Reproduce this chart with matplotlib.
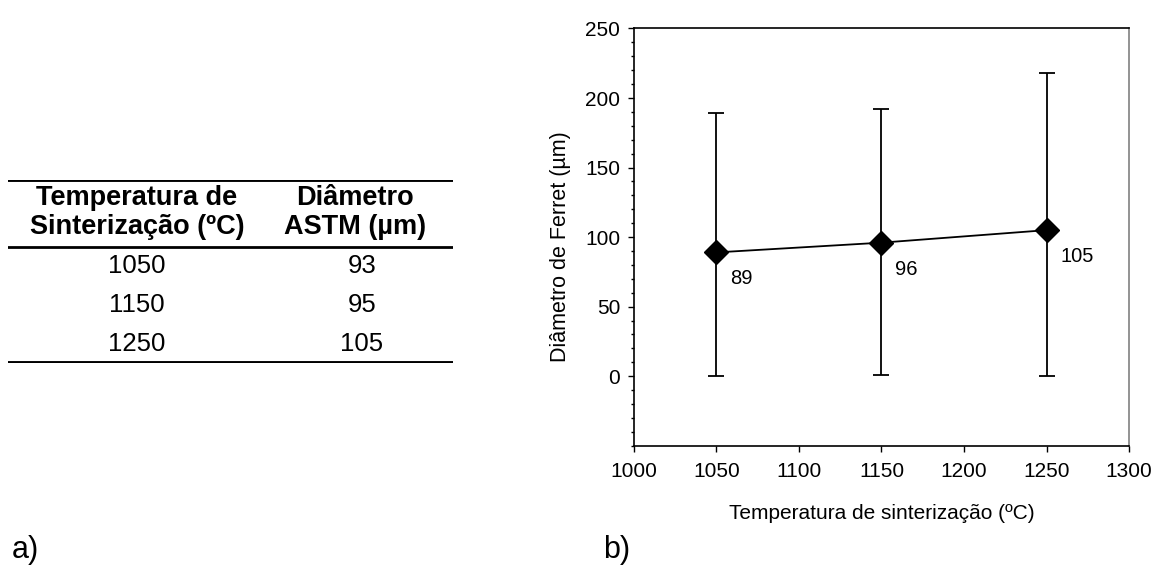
import numpy as np
import matplotlib.pyplot as plt
from matplotlib.ticker import MultipleLocator

plt.rcParams['font.family'] = ['Liberation Sans', 'DejaVu Sans']

# dados da tabela (a)
temp_tab = ['1050', '1150', '1250']
astm_tab = ['93', '95', '105']
cab_col1 = 'Temperatura de\nSinterização (ºC)'
cab_col2 = 'Diâmetro\nASTM (µm)'

# dados do gráfico (b)
temperatura = [1050, 1150, 1250]
ferret_medio = [89, 96, 105]
ferret_max = [189, 192, 218]
ferret_min = [0, 1, 0]
rotulos = ['89', '96', '105']

fig = plt.figure(figsize=(11.55, 5.72), dpi=100)

# tabela a)
axt = fig.add_axes([0.0069, 0.3654, 0.3853, 0.3199])
axt.set_xlim(0, 2)
h_cab = 1.72
n = len(temp_tab)
axt.set_ylim(h_cab + n, 0)
axt.axis('off')
axt.axhline(0, color='black', lw=2.8)
axt.axhline(h_cab, color='black', lw=2.0)
axt.axhline(h_cab + n, color='black', lw=2.8)
col_x = [0.58, 1.56]
axt.text(col_x[0], h_cab / 2 - 0.03, cab_col1, ha='center', va='center', fontsize=19.5,
         fontweight='bold', linespacing=1.15)
axt.text(col_x[1], h_cab / 2 - 0.03, cab_col2, ha='center', va='center', fontsize=19.5,
         fontweight='bold', linespacing=1.15)
for i in range(n):
    axt.text(col_x[0], h_cab + i + 0.5, temp_tab[i], ha='center', va='center', fontsize=18.5)
    axt.text(col_x[1] + 0.03, h_cab + i + 0.5, astm_tab[i], ha='center', va='center', fontsize=18.5)

# gráfico b)
ax = fig.add_axes([0.5489, 0.2208, 0.4286, 0.7294])
media = np.array(ferret_medio)
yerr = [media - np.array(ferret_min), np.array(ferret_max) - media]
ax.plot(temperatura, ferret_medio, color='black', lw=1.3, zorder=2)
ax.errorbar(temperatura, ferret_medio, yerr=yerr, fmt='D', color='black', ms=12,
            ecolor='black', elinewidth=1.3, capsize=6, capthick=1.3, zorder=3)
for x, y, s in zip(temperatura, ferret_medio, rotulos):
    ax.annotate(s, (x, y), xytext=(10, -19), textcoords='offset points',
                ha='left', va='center', fontsize=14.5)

ax.set_xlim(1000, 1300)
ax.set_ylim(-50, 250)
ax.xaxis.set_major_locator(MultipleLocator(50))
ax.yaxis.set_minor_locator(MultipleLocator(10))
ax.set_yticks(np.arange(0, 251, 50))
ax.tick_params(axis='both', which='major', direction='out', length=4.5, width=1,
               labelsize=15)
ax.tick_params(axis='x', which='major', pad=7)
ax.tick_params(axis='y', which='major', pad=5.5)
ax.tick_params(axis='y', which='minor', direction='out', length=2.5, width=1)
ax.spines['right'].set_color('#808080')
for sp in ax.spines.values():
    sp.set_linewidth(1.2)
ax.set_xlabel('Temperatura de sinterização (ºC)', fontsize=15, labelpad=17)
ax.set_ylabel('Diâmetro de Ferret (µm)', fontsize=15.5)
ax.yaxis.set_label_coords(-0.127, 0.476)

fig.text(0.010, 0.024, 'a)', fontsize=22)
fig.text(0.522, 0.024, 'b)', fontsize=22)

fig.savefig('out.png', dpi=100)
